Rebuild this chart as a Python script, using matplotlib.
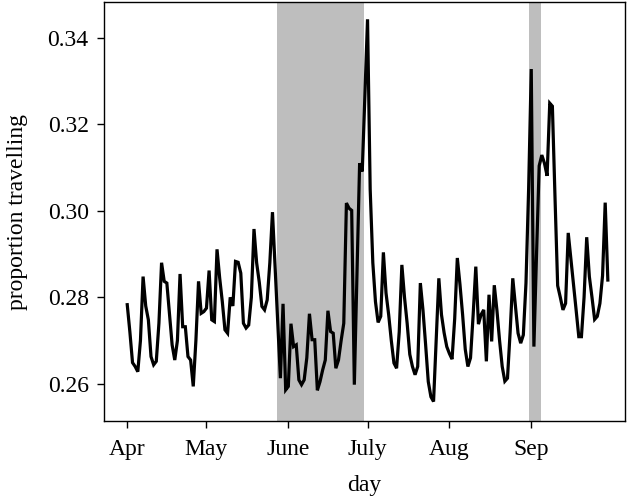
import matplotlib
matplotlib.use("Agg")
import matplotlib.pyplot as plt
import numpy as np

plt.rcParams['font.family'] = ['Liberation Serif', 'DejaVu Serif']

# daily proportion travelling, 1 April .. 30 September (183 days)
proportion = [
    0.2783, 0.2720, 0.2649, 0.2640, 0.2628, 0.2700, 0.2848, 0.2780, 0.2748, 0.2663,  # 0-9
    0.2644, 0.2652, 0.2740, 0.2880, 0.2837, 0.2833, 0.2760, 0.2690, 0.2655, 0.2700,  # 10-19
    0.2854, 0.2732, 0.2732, 0.2663, 0.2655, 0.2594, 0.2700, 0.2837, 0.2763, 0.2767,  # 20-29
    0.2775, 0.2862, 0.2748, 0.2744, 0.2911, 0.2845, 0.2790, 0.2725, 0.2717, 0.2800,  # 30-39
    0.2780, 0.2883, 0.2881, 0.2856, 0.2740, 0.2729, 0.2736, 0.2800, 0.2958, 0.2880,  # 40-49
    0.2835, 0.2779, 0.2771, 0.2794, 0.2880, 0.2997, 0.2870, 0.2740, 0.2613, 0.2785,  # 50-59
    0.2586, 0.2594, 0.2739, 0.2686, 0.2690, 0.2609, 0.2598, 0.2609, 0.2660, 0.2762,  # 60-69
    0.2702, 0.2702, 0.2585, 0.2605, 0.2632, 0.2655, 0.2769, 0.2721, 0.2717, 0.2636,  # 70-79
    0.2655, 0.2700, 0.2740, 0.3018, 0.3006, 0.3001, 0.2598, 0.2850, 0.3110, 0.3091,  # 80-89
    0.3270, 0.3443, 0.3050, 0.2880, 0.2790, 0.2742, 0.2756, 0.2904, 0.2810, 0.2760,  # 90-99
    0.2700, 0.2648, 0.2636, 0.2720, 0.2875, 0.2800, 0.2740, 0.2668, 0.2640, 0.2621,  # 100-109
    0.2640, 0.2833, 0.2770, 0.2690, 0.2605, 0.2570, 0.2559, 0.2700, 0.2844, 0.2760,  # 110-119
    0.2718, 0.2686, 0.2670, 0.2657, 0.2750, 0.2891, 0.2830, 0.2760, 0.2680, 0.2640,  # 120-129
    0.2660, 0.2760, 0.2871, 0.2738, 0.2760, 0.2771, 0.2652, 0.2806, 0.2698, 0.2828,  # 130-139
    0.2770, 0.2700, 0.2640, 0.2606, 0.2613, 0.2720, 0.2844, 0.2780, 0.2717, 0.2694,  # 140-149
    0.2713, 0.2833, 0.3050, 0.3328, 0.2686, 0.2900, 0.3104, 0.3129, 0.3110, 0.3081,  # 150-159
    0.3249, 0.3242, 0.3030, 0.2827, 0.2800, 0.2771, 0.2786, 0.2949, 0.2890, 0.2833,  # 160-169
    0.2770, 0.2709, 0.2709, 0.2800, 0.2939, 0.2848, 0.2800, 0.2749, 0.2756, 0.2786,  # 170-179
    0.2850, 0.3019, 0.2840,                                                          # 180-182
]
days = np.arange(len(proportion))

# month starts (days since 1 April) and labels
month_ticks = [0, 30, 61, 91, 122, 153]
month_labels = ["Apr", "May", "June", "July", "Aug", "Sep"]

# shaded periods (days since 1 April)
shade_periods = [(56.8, 89.8), (152.2, 156.7)]

fig = plt.figure(figsize=(6.34, 4.99), dpi=100)
ax = fig.add_axes([104 / 634, 1 - 421 / 499, 521 / 634, 419 / 499])

for a, b in shade_periods:
    ax.axvspan(a, b, color="#bebebe", lw=0, zorder=0)

ax.plot(days, proportion, color="black", lw=2.3, zorder=2, solid_joinstyle="miter")

ax.set_xlim(-8.8, 188.5)
ax.set_ylim(0.2514, 0.3483)
ax.set_xticks(month_ticks)
ax.set_xticklabels(month_labels)
ax.set_yticks([0.26, 0.28, 0.30, 0.32, 0.34])
ax.set_yticklabels(["0.26", "0.28", "0.30", "0.32", "0.34"])
ax.tick_params(direction="out", length=5, width=1, labelsize=17)
ax.tick_params(axis="x", pad=8)
ax.tick_params(axis="y", pad=6)
for s in ax.spines.values():
    s.set_linewidth(1.0)

ax.set_xlabel("day", fontsize=17, labelpad=11)
ax.set_ylabel("proportion travelling", fontsize=17, labelpad=14)

fig.savefig("out.png", dpi=100)
